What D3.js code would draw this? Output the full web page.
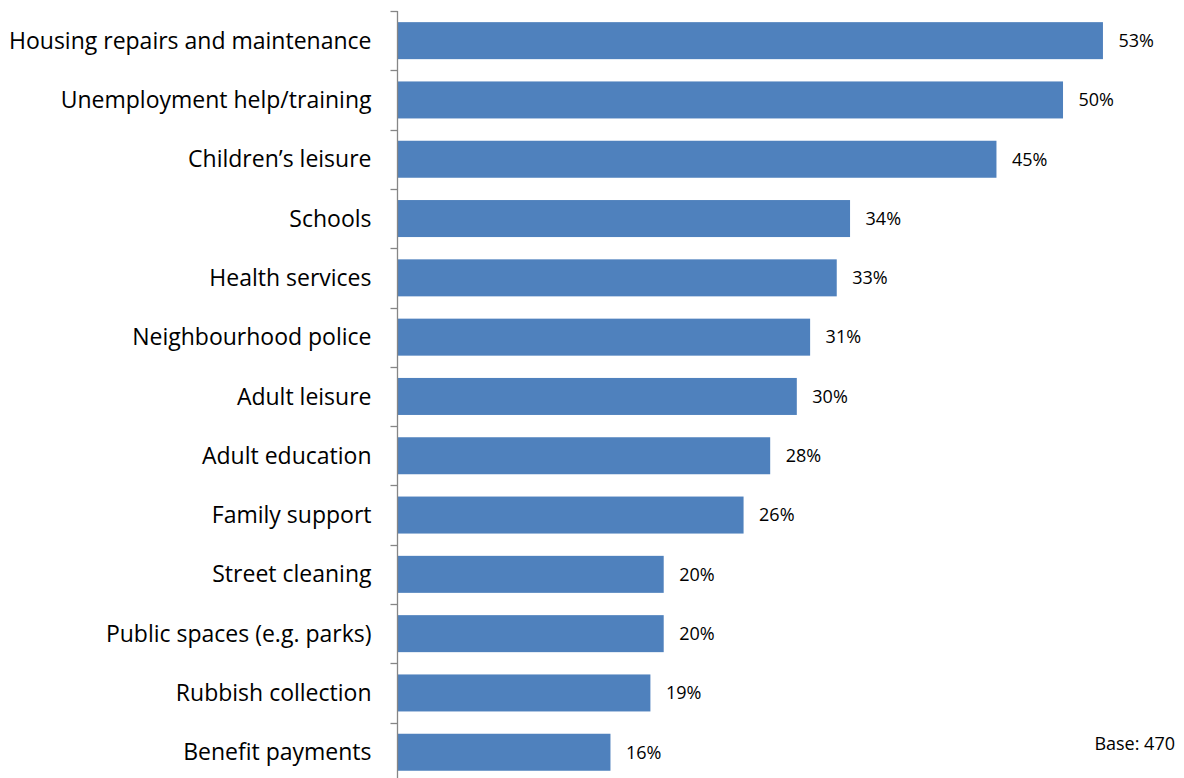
<!DOCTYPE html>
<html>
<head>
<meta charset="utf-8">
<script src="https://cdn.jsdelivr.net/npm/d3@7"></script>
<style>
  html, body { margin: 0; padding: 0; background: #fff; }
  svg { display: block; }
  text { font-family: "Open Sans", Lato, sans-serif; fill: #000; }
</style>
</head>
<body>
<svg id="chart" width="1184" height="778"></svg>
<script>
// Services people say are most needed in the area (% of respondents)
const categories = [
  "Housing repairs and maintenance",
  "Unemployment help/training",
  "Children\u2019s leisure",
  "Schools",
  "Health services",
  "Neighbourhood police",
  "Adult leisure",
  "Adult education",
  "Family support",
  "Street cleaning",
  "Public spaces (e.g. parks)",
  "Rubbish collection",
  "Benefit payments"
];
const values = [53, 50, 45, 34, 33, 31, 30, 28, 26, 20, 20, 19, 16];
const baseNote = "Base: 470";

const svg = d3.select("#chart");
const axisX = 397.5;

const x = d3.scaleLinear().domain([0, 58]).range([axisX, axisX + 772]);
const y = d3.scaleBand()
  .domain(categories)
  .range([11, 11 + 59.3 * categories.length])
  .paddingInner(0.376)
  .paddingOuter(0.188);

// bars
svg.append("g").selectAll("rect")
  .data(values)
  .join("rect")
  .attr("x", x(0))
  .attr("y", (d, i) => y(categories[i]))
  .attr("width", d => x(d) - x(0))
  .attr("height", y.bandwidth())
  .attr("fill", "#4F81BD");

// category axis with ticks on band boundaries
const step = y.step();
const axisG = svg.append("g").attr("stroke", "#868686").attr("stroke-width", 1.3);
axisG.append("line")
  .attr("x1", axisX).attr("x2", axisX)
  .attr("y1", 11).attr("y2", 778);
d3.range(categories.length + 1).forEach(i => {
  const ty = Math.round(11 + i * step) + 0.5;
  axisG.append("line")
    .attr("x1", axisX - 7).attr("x2", axisX)
    .attr("y1", ty).attr("y2", ty);
});

// category labels
svg.append("g").selectAll("text")
  .data(categories)
  .join("text")
  .attr("x", axisX - 26)
  .attr("y", d => y(d) + y.bandwidth() / 2)
  .attr("dy", "0.35em")
  .attr("text-anchor", "end")
  .style("font-size", "23px")
  .text(d => d);

// value labels
svg.append("g").selectAll("text")
  .data(values)
  .join("text")
  .attr("x", d => x(d) + 15.5)
  .attr("y", (d, i) => y(categories[i]) + y.bandwidth() / 2)
  .attr("dy", "0.35em")
  .style("font-size", "18px")
  .text(d => d + "%");

svg.append("text")
  .attr("x", 1175)
  .attr("y", 744)
  .attr("dy", "0.35em")
  .attr("text-anchor", "end")
  .style("font-size", "18px")
  .text(baseNote);
</script>
</body>
</html>
